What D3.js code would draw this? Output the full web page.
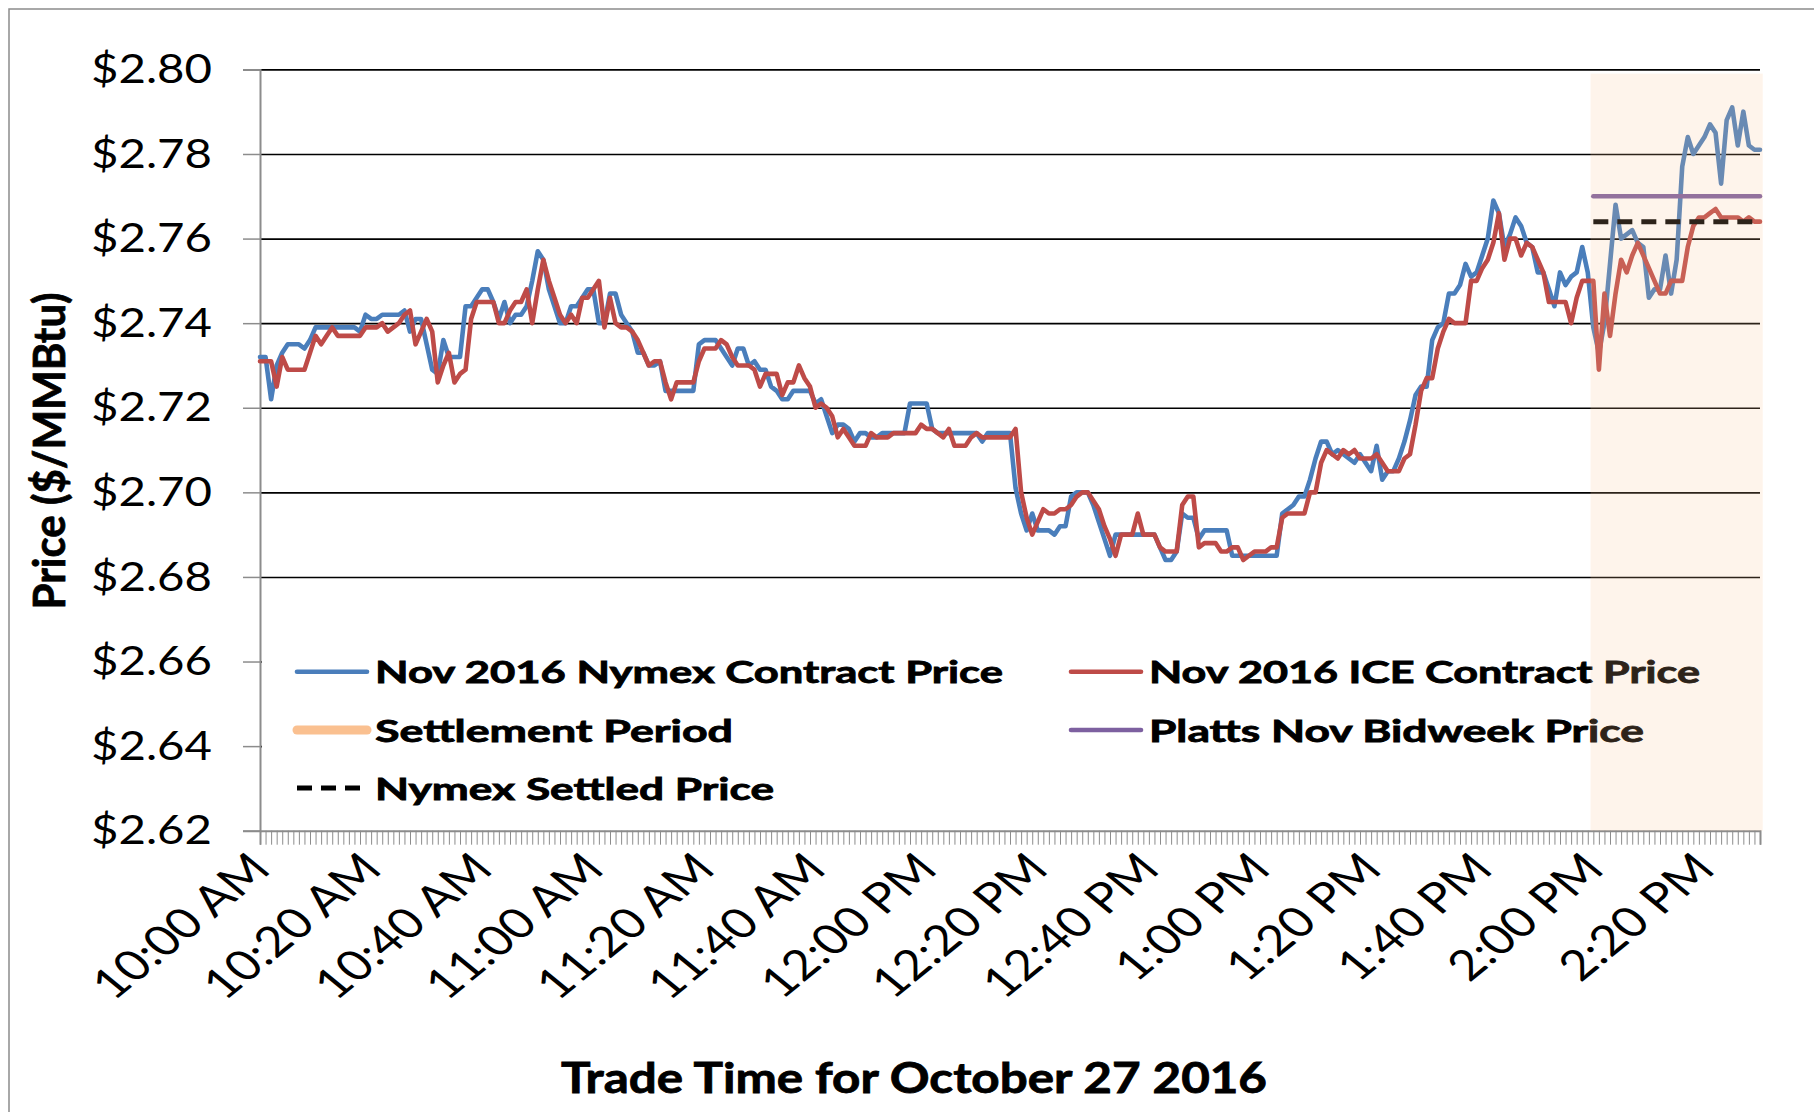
<!DOCTYPE html>
<html>
<head>
<meta charset="utf-8">
<title>Nov 2016 Nymex vs ICE - October 27 2016</title>
<script src="https://cdn.jsdelivr.net/npm/d3@7"></script>
<style>
    body { margin: 0; background: #fff; }
    text { font-family: Lato, "DejaVu Sans", sans-serif; fill: #000; }
    .bold { font-weight: bold; stroke: #000; stroke-width: 0.8px; }
</style>
</head>
<body>
<div id="chart"></div>
<script>
    // x labels, one every 20 minutes from 10:00 AM (minute 0)
    const timeLabels = ["10:00 AM", "10:20 AM", "10:40 AM", "11:00 AM", "11:20 AM", "11:40 AM",
        "12:00 PM", "12:20 PM", "12:40 PM", "1:00 PM", "1:20 PM", "1:40 PM", "2:00 PM", "2:20 PM"];
    const yTicks = [2.62, 2.64, 2.66, 2.68, 2.70, 2.72, 2.74, 2.76, 2.78, 2.80];

    // one price per minute, 10:00 AM .. 2:30 PM
    const nymex = [
        2.732, 2.732, 2.722, 2.730, 2.733, 2.735, 2.735, 2.735, 2.734, 2.736,
        2.739, 2.739, 2.739, 2.739, 2.739, 2.739, 2.739, 2.739, 2.738, 2.742,
        2.741, 2.741, 2.742, 2.742, 2.742, 2.742, 2.743, 2.738, 2.741, 2.741,
        2.735, 2.729, 2.728, 2.736, 2.732, 2.732, 2.732, 2.744, 2.744, 2.746,
        2.748, 2.748, 2.745, 2.741, 2.745, 2.740, 2.742, 2.742, 2.744, 2.750,
        2.757, 2.755, 2.748, 2.744, 2.740, 2.740, 2.744, 2.744, 2.746, 2.748,
        2.748, 2.740, 2.740, 2.747, 2.747, 2.742, 2.740, 2.738, 2.733, 2.733,
        2.730, 2.730, 2.731, 2.724, 2.724, 2.724, 2.724, 2.724, 2.724, 2.735,
        2.736, 2.736, 2.736, 2.734, 2.732, 2.730, 2.734, 2.734, 2.730, 2.731,
        2.729, 2.729, 2.725, 2.724, 2.722, 2.722, 2.724, 2.724, 2.724, 2.724,
        2.721, 2.722, 2.718, 2.714, 2.716, 2.716, 2.715, 2.712, 2.714, 2.714,
        2.713, 2.713, 2.714, 2.714, 2.714, 2.714, 2.714, 2.721, 2.721, 2.721,
        2.721, 2.715, 2.714, 2.714, 2.714, 2.714, 2.714, 2.714, 2.714, 2.714,
        2.712, 2.714, 2.714, 2.714, 2.714, 2.714, 2.701, 2.695, 2.691, 2.695,
        2.691, 2.691, 2.691, 2.690, 2.692, 2.692, 2.699, 2.700, 2.700, 2.700,
        2.697, 2.693, 2.689, 2.685, 2.690, 2.690, 2.690, 2.690, 2.690, 2.690,
        2.690, 2.690, 2.687, 2.684, 2.684, 2.686, 2.695, 2.694, 2.694, 2.689,
        2.691, 2.691, 2.691, 2.691, 2.691, 2.685, 2.685, 2.685, 2.685, 2.685,
        2.685, 2.685, 2.685, 2.685, 2.695, 2.696, 2.697, 2.699, 2.699, 2.703,
        2.708, 2.712, 2.712, 2.709, 2.710, 2.709, 2.708, 2.707, 2.709, 2.707,
        2.705, 2.711, 2.703, 2.705, 2.705, 2.708, 2.712, 2.717, 2.723, 2.725,
        2.725, 2.736, 2.739, 2.740, 2.747, 2.747, 2.749, 2.754, 2.751, 2.752,
        2.756, 2.760, 2.769, 2.766, 2.758, 2.761, 2.765, 2.763, 2.759, 2.758,
        2.752, 2.752, 2.748, 2.744, 2.752, 2.749, 2.751, 2.752, 2.758, 2.752,
        2.739, 2.733, 2.740, 2.754, 2.768, 2.760, 2.761, 2.762, 2.759, 2.758,
        2.746, 2.748, 2.748, 2.756, 2.747, 2.755, 2.777, 2.784, 2.780, 2.782,
        2.784, 2.787, 2.785, 2.773, 2.788, 2.791, 2.782, 2.790, 2.782, 2.781,
        2.781
    ];
    const ice = [
        2.731, 2.731, 2.731, 2.725, 2.732, 2.729, 2.729, 2.729, 2.729, 2.733,
        2.737, 2.735, 2.737, 2.739, 2.737, 2.737, 2.737, 2.737, 2.737, 2.739,
        2.739, 2.739, 2.740, 2.738, 2.739, 2.740, 2.742, 2.743, 2.735, 2.738,
        2.741, 2.738, 2.726, 2.730, 2.733, 2.726, 2.728, 2.729, 2.741, 2.745,
        2.745, 2.745, 2.745, 2.740, 2.740, 2.743, 2.745, 2.745, 2.748, 2.740,
        2.748, 2.755, 2.750, 2.746, 2.742, 2.740, 2.742, 2.740, 2.746, 2.746,
        2.748, 2.750, 2.739, 2.746, 2.740, 2.739, 2.739, 2.738, 2.736, 2.733,
        2.730, 2.731, 2.731, 2.726, 2.722, 2.726, 2.726, 2.726, 2.726, 2.731,
        2.734, 2.734, 2.734, 2.736, 2.735, 2.732, 2.730, 2.730, 2.730, 2.729,
        2.725, 2.728, 2.728, 2.728, 2.723, 2.726, 2.726, 2.730, 2.727, 2.725,
        2.720, 2.721, 2.720, 2.718, 2.713, 2.715, 2.713, 2.711, 2.711, 2.711,
        2.714, 2.713, 2.713, 2.713, 2.714, 2.714, 2.714, 2.714, 2.714, 2.716,
        2.715, 2.715, 2.714, 2.713, 2.715, 2.711, 2.711, 2.711, 2.713, 2.714,
        2.713, 2.713, 2.713, 2.713, 2.713, 2.713, 2.715, 2.700, 2.694, 2.690,
        2.693, 2.696, 2.695, 2.695, 2.696, 2.696, 2.697, 2.699, 2.700, 2.700,
        2.698, 2.696, 2.692, 2.689, 2.685, 2.690, 2.690, 2.690, 2.695, 2.690,
        2.690, 2.690, 2.687, 2.686, 2.686, 2.686, 2.697, 2.699, 2.699, 2.687,
        2.688, 2.688, 2.688, 2.686, 2.686, 2.687, 2.687, 2.684, 2.685, 2.686,
        2.686, 2.686, 2.687, 2.687, 2.694, 2.695, 2.695, 2.695, 2.695, 2.700,
        2.700, 2.707, 2.710, 2.709, 2.708, 2.710, 2.709, 2.710, 2.708, 2.708,
        2.708, 2.709, 2.707, 2.705, 2.705, 2.705, 2.708, 2.709, 2.716, 2.724,
        2.727, 2.727, 2.734, 2.738, 2.741, 2.740, 2.740, 2.740, 2.750, 2.750,
        2.753, 2.755, 2.759, 2.766, 2.755, 2.760, 2.760, 2.756, 2.759, 2.758,
        2.755, 2.752, 2.745, 2.745, 2.745, 2.745, 2.740, 2.746, 2.750, 2.750,
        2.750, 2.729, 2.747, 2.737, 2.747, 2.755, 2.752, 2.756, 2.759, 2.756,
        2.753, 2.750, 2.747, 2.747, 2.750, 2.750, 2.750, 2.758, 2.763, 2.765,
        2.765, 2.766, 2.767, 2.765, 2.765, 2.765, 2.765, 2.764, 2.765, 2.764,
        2.764
    ];

    // settlement window (minutes after 10:00) and the two reference prices
    const settleWindow = [240, 270];
    const plattsPrice = 2.770;
    const nymexSettled = 2.764;

    const legendLabels = ["Nov 2016 Nymex Contract Price", "Nov 2016 ICE Contract Price",
        "Settlement Period", "Platts Nov Bidweek Price", "Nymex Settled Price"];

    const W = 1814, H = 1112;
    const plot = { left: 260, right: 1760, top: 69.4, bottom: 830.7 };

    const svg = d3.select("#chart").append("svg")
        .attr("width", W)
        .attr("height", H);

    const x = d3.scaleLinear().domain([0, nymex.length - 1]).range([plot.left, plot.right]);
    const y = d3.scaleLinear().domain([2.62, 2.80]).range([plot.bottom, plot.top]);

    // chart area border
    svg.append("rect")
        .attr("x", 9).attr("y", 9)
        .attr("width", 1820).attr("height", 1130)
        .attr("fill", "none")
        .attr("stroke", "#8c8c8c")
        .attr("stroke-width", 1.5);

    // grid lines
    svg.append("g")
        .attr("transform", `translate(${plot.left},0)`)
        .call(d3.axisLeft(y).tickValues(yTicks.slice(1)).tickSize(-(plot.right - plot.left)).tickFormat(""))
        .call(g => g.select(".domain").remove())
        .selectAll("line")
        .attr("stroke", "#000")
        .attr("stroke-width", 1.6);

    // y axis
    const yAxis = svg.append("g")
        .attr("transform", `translate(${plot.left},0)`)
        .call(d3.axisLeft(y).tickValues(yTicks).tickSize(17).tickPadding(31)
            .tickFormat(d => "$" + d.toFixed(2)));
    yAxis.select(".domain").attr("stroke", "#8c8c8c").attr("stroke-width", 2);
    yAxis.selectAll("line").attr("stroke", "#8c8c8c").attr("stroke-width", 1.5);
    yAxis.selectAll("text")
        .style("font-family", "Lato")
        .style("font-size", "41px")
        .attr("textLength", 121)
        .attr("lengthAdjust", "spacingAndGlyphs");

    // x axis: one small tick per minute
    const xAxis = svg.append("g")
        .attr("transform", `translate(0,${plot.bottom})`)
        .call(d3.axisBottom(x).tickValues(d3.range(0, nymex.length)).tickSize(14).tickFormat(""));
    xAxis.select(".domain").attr("stroke", "#8c8c8c").attr("stroke-width", 2);
    xAxis.selectAll("line").attr("stroke", "#8c8c8c").attr("stroke-width", 1);

    svg.append("g")
        .selectAll("text")
        .data(timeLabels)
        .join("text")
        .attr("transform", (d, i) => `translate(${x(i * 20)},${plot.bottom + 30}) scale(1.22,1) rotate(-45)`)
        .attr("text-anchor", "end")
        .attr("dy", "0.35em")
        .style("font-size", "42px")
        .text(d => d);

    // axis titles
    svg.append("text")
        .attr("class", "bold")
        .attr("transform", "translate(50,451) rotate(-90)")
        .attr("text-anchor", "middle")
        .attr("dy", "0.35em")
        .style("font-size", "44px")
        .attr("textLength", 317)
        .attr("lengthAdjust", "spacingAndGlyphs")
        .text("Price ($/MMBtu)");

    svg.append("text")
        .attr("class", "bold")
        .attr("x", 914)
        .attr("y", 1093)
        .attr("text-anchor", "middle")
        .style("font-size", "42px")
        .attr("textLength", 706)
        .attr("lengthAdjust", "spacingAndGlyphs")
        .text("Trade Time for October 27 2016");

    // price lines
    const line = d3.line().x((d, i) => x(i)).y(d => y(d));

    svg.append("path")
        .datum(nymex)
        .attr("d", line)
        .attr("fill", "none")
        .attr("stroke", "#4a7ebb")
        .attr("stroke-width", 4.6)
        .attr("stroke-linejoin", "round")
        .attr("stroke-linecap", "round");

    svg.append("path")
        .datum(ice)
        .attr("d", line)
        .attr("fill", "none")
        .attr("stroke", "#be4b48")
        .attr("stroke-width", 4.6)
        .attr("stroke-linejoin", "round")
        .attr("stroke-linecap", "round");

    const settleMinutes = d3.range(settleWindow[0], settleWindow[1] + 1);
    const flat = v => d3.line().x(d => x(d)).y(() => y(v));

    svg.append("path")
        .datum(settleMinutes)
        .attr("d", flat(plattsPrice))
        .attr("fill", "none")
        .attr("stroke", "#7d60a0")
        .attr("stroke-width", 4.6)
        .attr("stroke-linecap", "round");

    svg.append("path")
        .datum(settleMinutes)
        .attr("d", flat(nymexSettled))
        .attr("fill", "none")
        .attr("stroke", "#000")
        .attr("stroke-width", 5)
        .attr("stroke-dasharray", "15,9");

    // legend
    const legend = svg.append("g");
    legend.append("rect")
        .attr("x", 262).attr("y", 640)
        .attr("width", 1504).attr("height", 176)
        .attr("fill", "#fff");

    const legendItems = [
        { label: legendLabels[0], lx: 297, ly: 671.7, len: 628, stroke: "#4a7ebb", w: 4.6 },
        { label: legendLabels[1], lx: 1071, ly: 671.7, len: 551, stroke: "#be4b48", w: 4.6 },
        { label: legendLabels[2], lx: 297, ly: 730, len: 358, stroke: "#fac090", w: 9 },
        { label: legendLabels[3], lx: 1071, ly: 730, len: 495, stroke: "#7d60a0", w: 4.6 },
        { label: legendLabels[4], lx: 297, ly: 788, len: 399, stroke: "#000", w: 5, dash: "15,9" }
    ];
    const item = legend.selectAll("g.item")
        .data(legendItems)
        .join("g")
        .attr("class", "item");
    item.append("line")
        .attr("x1", d => d.lx)
        .attr("x2", d => d.lx + 70)
        .attr("y1", d => d.ly)
        .attr("y2", d => d.ly)
        .attr("stroke", d => d.stroke)
        .attr("stroke-width", d => d.w)
        .attr("stroke-linecap", d => d.dash ? "butt" : "round")
        .attr("stroke-dasharray", d => d.dash || null);
    item.append("text")
        .attr("class", "bold")
        .attr("x", d => d.lx + 78)
        .attr("y", d => d.ly + 11.5)
        .style("font-size", "30px")
        .attr("textLength", d => d.len)
        .attr("lengthAdjust", "spacingAndGlyphs")
        .text(d => d.label);

    // settlement period overlay, drawn on top and mostly transparent
    svg.append("rect")
        .attr("x", x(settleWindow[0] - 0.5))
        .attr("y", y(2.799))
        .attr("width", x(settleWindow[1] + 0.5) - x(settleWindow[0] - 0.5))
        .attr("height", y(2.62) - y(2.799))
        .attr("fill", "#fac090")
        .attr("opacity", 0.18);
</script>
</body>
</html>
